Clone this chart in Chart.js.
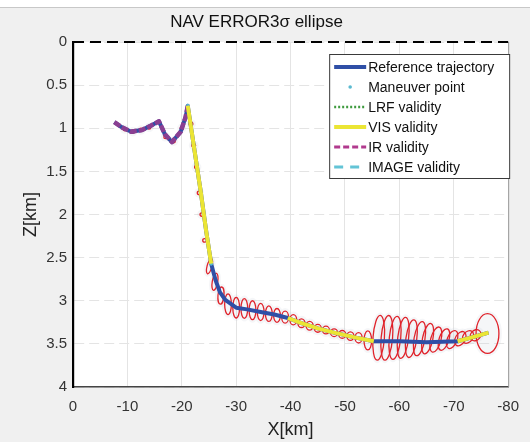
<!DOCTYPE html>
<html>
<head>
<meta charset="utf-8">
<script src="https://cdn.jsdelivr.net/npm/chart.js@4.4.1/dist/chart.umd.min.js"></script>
<style>
  html, body { margin: 0; padding: 0; background: #f0f0f0; }
  #navChart { display: block; }
</style>
</head>
<body>
<canvas id="navChart" width="530" height="442"></canvas>
<script>
// Reference trajectory, X / Z in km
const trajX = [-7.6, -9, -10.7, -12.7, -14.3, -15.8, -16.9, -18.2, -19.8, -20.7, -21.1,
    -22.2, -23.4, -24.5, -25.4, -26.2, -27, -28, -30, -32, -34.5, -37, -39.5,
    -42, -45, -48, -52.2, -55.3, -60, -65, -70.7, -73, -76.4];
const trajZ = [0.93, 0.99, 1.04, 1.02, 0.97, 0.92, 1.07, 1.16, 1.04, 0.87, 0.74,
    1.2, 1.7, 2.2, 2.57, 2.76, 2.9, 2.99, 3.08, 3.1, 3.13, 3.16, 3.2,
    3.26, 3.32, 3.37, 3.43, 3.47, 3.47, 3.48, 3.47, 3.43, 3.37];

// point index ranges flown with each sensor
const irRanges = [[0, 10]];
const visRanges = [[10, 14], [22, 27], [30, 32]];

// maneuver points
const manX = [-21.1, -25.4];
const manZ = [0.74, 2.57];

// 3 sigma ellipses: centre, half axes (km), tilt on screen (deg)
const ellX = [-9.5, -11, -12.5, -14, -17, -18.5, -20,
    -21.7, -22.2, -22.7, -23.2, -23.7, -24.2,
    -25.1, -26.1, -27.2,
    -28.5, -30, -31.5, -33, -34.5, -36, -37.5, -39, -40.5,
    -42, -43.5, -45, -46.5, -48, -49.5, -51, -52.5, -54.2,
    -56.2, -57.7, -59.2, -60.7, -62.2, -63.7, -65.2, -66.7, -68.2, -69.7,
    -71.2, -72.6, -74, -76.2];
const ellZ = [1.01, 1.04, 1.02, 0.99, 1.1, 1.15, 1.0,
    0.95, 1.2, 1.45, 1.75, 2.0, 2.3,
    2.6, 2.78, 2.94,
    3.04, 3.08, 3.09, 3.11, 3.13, 3.15, 3.17, 3.19, 3.22,
    3.26, 3.29, 3.32, 3.34, 3.37, 3.39, 3.41, 3.43, 3.46,
    3.43, 3.43, 3.43, 3.43, 3.44, 3.44, 3.44, 3.45, 3.45, 3.45,
    3.44, 3.42, 3.4, 3.38];
const ellA = [0.3, 0.3, 0.3, 0.3, 0.3, 0.3, 0.3,
    0.35, 0.35, 0.35, 0.35, 0.35, 0.35,
    0.45, 0.5, 0.55,
    0.62, 0.62, 0.62, 0.62, 0.62, 0.62, 0.62, 0.62, 0.62,
    0.65, 0.65, 0.65, 0.65, 0.65, 0.65, 0.65, 0.65, 0.7,
    1.05, 1.05, 1.05, 1.0, 1.0, 1.0, 0.95, 0.95, 0.9, 0.9,
    0.9, 0.9, 0.9, 2.1];
const ellB = [0.02, 0.02, 0.02, 0.02, 0.02, 0.02, 0.02,
    0.02, 0.02, 0.02, 0.02, 0.02, 0.02,
    0.09, 0.1, 0.1,
    0.12, 0.12, 0.115, 0.11, 0.1, 0.09, 0.08, 0.07, 0.06,
    0.05, 0.05, 0.045, 0.045, 0.045, 0.045, 0.05, 0.06, 0.11,
    0.26, 0.26, 0.25, 0.24, 0.22, 0.2, 0.18, 0.15, 0.13, 0.11,
    0.09, 0.08, 0.07, 0.23];
const ellTilt = [0, 0, 0, 0, 0, 0, 0,
    0, 0, 0, 0, 0, 0,
    15, 10, 5,
    0, 0, 0, 0, 0, 0, 0, 0, 0,
    0, 0, 0, 0, 0, 0, 0, 0, 0,
    4, 5, 6, 7, 8, 10, 12, 15, 18, 22,
    30, 35, 40, 0];

const xTicksStep = 10;
const zTicksStep = 0.5;

function pickRanges(ranges) {
    const out = [];
    ranges.forEach((r, k) => {
        if (k > 0) out.push({ x: NaN, y: null });
        for (let i = r[0]; i <= r[1]; i++) out.push({ x: trajX[i], y: trajZ[i] });
    });
    return out;
}

const font = "'Liberation Sans', Arial, sans-serif";

const bgPlugin = {
    id: 'bg',
    beforeDraw(chart) {
        const { ctx, chartArea: a } = chart;
        ctx.save();
        ctx.fillStyle = '#f0f0f0';
        ctx.fillRect(0, 0, chart.width, chart.height);
        ctx.fillStyle = '#ffffff';
        ctx.fillRect(0, 0, chart.width, 7);
        ctx.fillStyle = '#c8c8c8';
        ctx.fillRect(0, 7, chart.width, 1);
        ctx.fillStyle = '#ffffff';
        ctx.fillRect(a.left, a.top, a.right - a.left, a.bottom - a.top);
        ctx.restore();
    }
};

const ellipsePlugin = {
    id: 'ellipses',
    beforeDatasetsDraw(chart) {
        const { ctx, chartArea: a, scales } = chart;
        const xs = scales.x, ys = scales.y;
        const shape = i => {
            const cx = xs.getPixelForValue(ellX[i]);
            const cy = ys.getPixelForValue(ellZ[i]);
            return {
                cx, cy,
                rx: Math.abs(xs.getPixelForValue(ellX[i] + ellA[i]) - cx),
                ry: Math.abs(ys.getPixelForValue(ellZ[i] + ellB[i]) - cy),
                rot: ellTilt[i] * Math.PI / 180
            };
        };
        ctx.save();
        ctx.beginPath();
        ctx.rect(a.left, a.top, a.right - a.left, a.bottom - a.top);
        ctx.clip();
        ctx.fillStyle = 'rgba(200, 205, 215, 0.18)';
        for (let i = 0; i < ellX.length; i++) {
            const e = shape(i);
            ctx.beginPath();
            ctx.ellipse(e.cx, e.cy, e.rx + 3, e.ry + 3, e.rot, 0, Math.PI * 2);
            ctx.fill();
        }
        ctx.lineWidth = 1.3;
        ctx.strokeStyle = '#e0232b';
        for (let i = 0; i < ellX.length; i++) {
            const e = shape(i);
            ctx.beginPath();
            ctx.ellipse(e.cx, e.cy, e.rx, e.ry, e.rot, 0, Math.PI * 2);
            ctx.stroke();
        }
        ctx.restore();
    }
};

// dashed top edge, right edge and the legend box inside the axes
const framePlugin = {
    id: 'frame',
    afterDraw(chart) {
        const { ctx, chartArea: a } = chart;
        ctx.save();
        ctx.strokeStyle = '#9a9a9a';
        ctx.lineWidth = 1;
        ctx.beginPath();
        ctx.moveTo(a.right + 0.5, a.top);
        ctx.lineTo(a.right + 0.5, a.bottom);
        ctx.stroke();
        ctx.strokeStyle = '#000';
        ctx.lineWidth = 2.2;
        ctx.setLineDash([11, 6]);
        ctx.beginPath();
        ctx.moveTo(a.left, a.top);
        ctx.lineTo(a.right, a.top);
        ctx.stroke();
        ctx.setLineDash([]);

        // legend
        const items = chart.data.datasets.filter(d => d.label);
        const bx = a.right - 179, by = a.top + 12, bw = 181, bh = 125;
        ctx.fillStyle = '#ffffff';
        ctx.fillRect(bx, by, bw, bh);
        ctx.strokeStyle = '#3a3a3a';
        ctx.lineWidth = 1;
        ctx.strokeRect(bx + 0.5, by + 0.5, bw - 1, bh - 1);
        ctx.font = '14px ' + font;
        ctx.textBaseline = 'middle';
        ctx.textAlign = 'left';
        items.forEach((d, i) => {
            const y = by + 13 + i * 20;
            if (d.showLine === false) {
                ctx.fillStyle = d.backgroundColor;
                ctx.beginPath();
                ctx.arc(bx + 21, y, 1.8, 0, Math.PI * 2);
                ctx.fill();
            } else {
                ctx.strokeStyle = d.legendColor || d.borderColor;
                ctx.lineWidth = d.legendWidth || d.borderWidth;
                ctx.setLineDash(d.legendDash || d.borderDash || []);
                ctx.beginPath();
                ctx.moveTo(bx + 5, y);
                ctx.lineTo(bx + 37, y);
                ctx.stroke();
                ctx.setLineDash([]);
            }
            ctx.fillStyle = '#111';
            ctx.fillText(d.label, bx + 39, y + 1);
        });
        ctx.restore();
    }
};

new Chart(document.getElementById('navChart'), {
    type: 'line',
    data: {
        datasets: [
            {
                label: 'Reference trajectory',
                data: trajX.map((x, i) => ({ x: x, y: trajZ[i] })),
                borderColor: '#2f4fa6',
                borderWidth: 4,
                borderJoinStyle: 'round',
                pointRadius: 0,
                order: 6
            },
            {
                label: 'Maneuver point',
                data: manX.map((x, i) => ({ x: x, y: manZ[i] })),
                showLine: false,
                backgroundColor: '#5bbad0',
                borderColor: '#5bbad0',
                pointRadius: 1.5,
                order: 5
            },
            {
                label: 'LRF validity',
                data: [],
                borderColor: '#3f9b3f',
                borderWidth: 2.5,
                borderDash: [2, 2],
                pointRadius: 0,
                order: 4
            },
            {
                label: 'VIS validity',
                data: pickRanges(visRanges),
                borderColor: '#ebe534',
                borderWidth: 4,
                borderJoinStyle: 'round',
                pointRadius: 0,
                spanGaps: false,
                order: 1
            },
            {
                label: 'IR validity',
                data: pickRanges(irRanges),
                borderColor: '#8a3f92',
                borderWidth: 4.5,
                borderDash: [7, 2],
                borderJoinStyle: 'round',
                legendColor: '#b13a8e',
                legendWidth: 3,
                legendDash: [6, 3],
                pointRadius: 0,
                order: 2
            },
            {
                label: 'IMAGE validity',
                data: [],
                borderColor: '#63c4d6',
                borderWidth: 3,
                borderDash: [9, 7],
                pointRadius: 0,
                order: 3
            }
        ]
    },
    options: {
        responsive: false,
        animation: false,
        devicePixelRatio: 1,
        layout: { padding: { left: 0, right: 17, top: 0, bottom: 0 } },
        plugins: {
            legend: { display: false },
            tooltip: { enabled: false },
            title: {
                display: true,
                text: 'NAV ERROR3\u03c3 ellipse',
                color: '#111',
                font: { family: font, size: 17, weight: 'normal' },
                padding: { top: 12, bottom: 9.6 }
            }
        },
        scales: {
            x: {
                type: 'linear',
                min: -80,
                max: 0,
                reverse: true,
                ticks: { stepSize: xTicksStep, color: '#333', font: { family: font, size: 15 }, padding: 11,
                    callback: v => String(v) },
                grid: { color: '#e4e4e4', drawTicks: false },
                border: { color: '#444', width: 1.5 },
                title: { display: true, text: 'X[km]', color: '#222', font: { family: font, size: 18 }, padding: { top: 0, bottom: 1 } },
                afterFit: s => { s.height = 55; }
            },
            y: {
                type: 'linear',
                min: 0,
                max: 4,
                reverse: true,
                ticks: { stepSize: zTicksStep, color: '#333', font: { family: font, size: 15 }, padding: 6,
                    callback: v => String(v) },
                grid: { color: '#e4e4e4', drawTicks: false },
                border: { color: '#000', width: 2.2, dash: [10, 5] },
                title: { display: true, text: 'Z[km]', color: '#222', font: { family: font, size: 18 }, padding: { top: 20, bottom: 0 } },
                afterFit: s => { s.width = 73; }
            }
        }
    },
    plugins: [bgPlugin, ellipsePlugin, framePlugin]
});
</script>
</body>
</html>
